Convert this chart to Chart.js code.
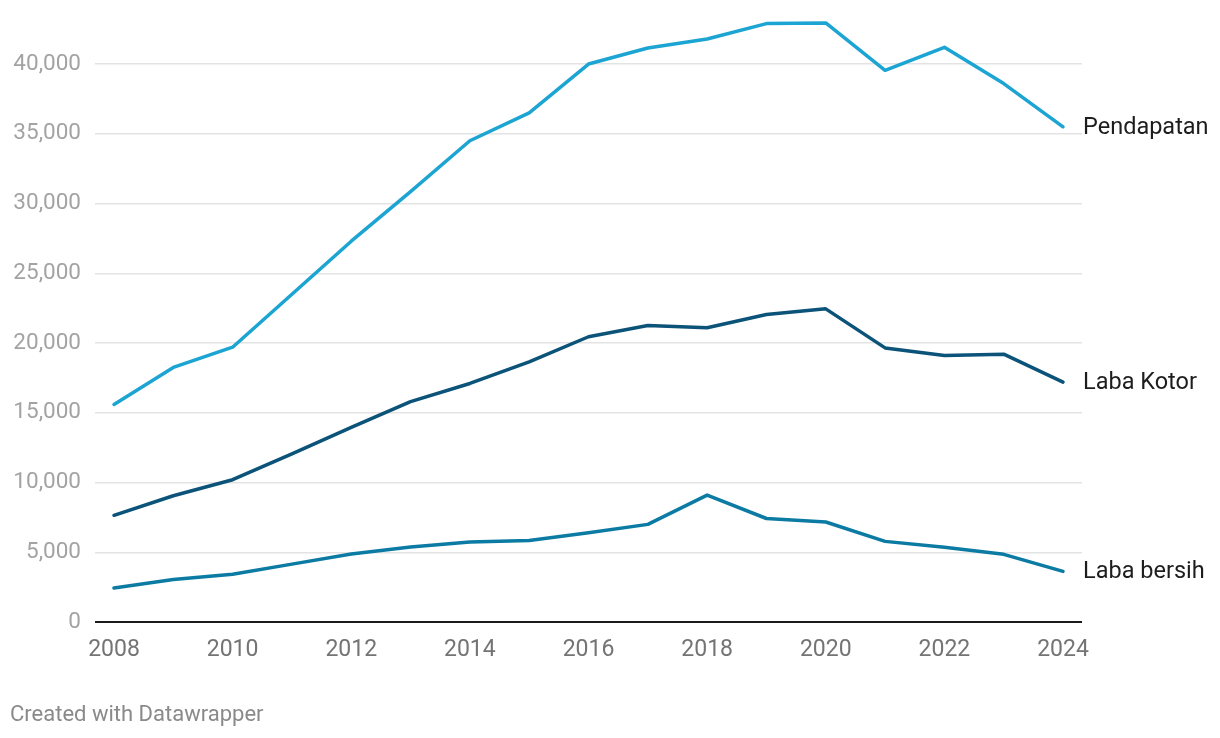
<!DOCTYPE html>
<html>
<head>
<meta charset="utf-8">
<script src="https://cdn.jsdelivr.net/npm/chart.js@4/dist/chart.umd.min.js"></script>
<style>
  html, body { margin: 0; padding: 0; background: #fff; }
  #wrap { position: relative; width: 1220px; height: 738px; }
  #credit {
    position: absolute; left: 10px; top: 701px;
    font-family: Roboto, sans-serif; font-size: 22px; color: #8a8a8a;
  }
</style>
</head>
<body>
<div id="wrap">
  <canvas id="chart" width="1220" height="738"></canvas>
  <div id="credit">Created with Datawrapper</div>
</div>
<script>
// --- DATA ---
const years = [2008, 2009, 2010, 2011, 2012, 2013, 2014, 2015, 2016, 2017, 2018, 2019, 2020, 2021, 2022, 2023, 2024];
const pendapatan = [15600, 18250, 19700, 23500, 27300, 30850, 34500, 36500, 40000, 41150, 41800, 42900, 42950, 39550, 41200, 38600, 35500];
const labaKotor = [7650, 9050, 10200, 12050, 13950, 15800, 17100, 18650, 20450, 21250, 21100, 22050, 22450, 19650, 19100, 19200, 17200];
const labaBersih = [2430, 3050, 3420, 4150, 4870, 5370, 5730, 5850, 6400, 7000, 9100, 7420, 7170, 5780, 5360, 4850, 3630];
const yTicks = [0, 5000, 10000, 15000, 20000, 25000, 30000, 35000, 40000];
const xTicks = [2008, 2010, 2012, 2014, 2016, 2018, 2020, 2022, 2024];

const seriesNames = ["Pendapatan", "Laba Kotor", "Laba bersih"];
const seriesColors = ["#1ca4d3", "#0b5379", "#0c7ba3"];

const FONT = "Roboto, 'Noto Sans', sans-serif";

function toPoints(vals) {
    return years.map((y, i) => ({ x: y, y: vals[i] }));
}

// --- END LABELS PLUGIN ---
const endLabels = {
    id: "endLabels",
    afterDatasetsDraw(chart) {
        const ctx = chart.ctx;
        ctx.save();
        ctx.font = "23.5px " + FONT;
        ctx.fillStyle = "#1d1d1d";
        ctx.textAlign = "left";
        ctx.textBaseline = "middle";
        chart.data.datasets.forEach((ds, i) => {
            const meta = chart.getDatasetMeta(i);
            const last = meta.data[meta.data.length - 1];
            ctx.fillText(ds.label, last.x + 20, last.y + 1);
        });
        ctx.restore();
    }
};

new Chart(document.getElementById("chart"), {
    type: "line",
    data: {
        datasets: [
            { label: seriesNames[0], data: toPoints(pendapatan), borderColor: seriesColors[0] },
            { label: seriesNames[1], data: toPoints(labaKotor), borderColor: seriesColors[1] },
            { label: seriesNames[2], data: toPoints(labaBersih), borderColor: seriesColors[2] }
        ].map(d => Object.assign(d, {
            borderWidth: 3.5,
            pointRadius: 0,
            tension: 0,
            fill: false,
            borderJoinStyle: "round",
            borderCapStyle: "round",
            clip: false
        }))
    },
    options: {
        responsive: false,
        animation: false,
        layout: { padding: { top: 0, right: 138, bottom: 66, left: 0 } },
        plugins: {
            legend: { display: false },
            tooltip: { enabled: false }
        },
        scales: {
            x: {
                type: "linear",
                min: 2007.68,
                max: 2024.32,
                afterBuildTicks: axis => { axis.ticks = xTicks.map(v => ({ value: v })); },
                afterFit: axis => { axis.height = 50; },
                grid: { display: false, drawTicks: false },
                border: { display: false },
                ticks: {
                    color: "#747474",
                    font: { family: FONT, size: 23 },
                    padding: 14,
                    maxRotation: 0,
                    callback: v => String(v)
                }
            },
            y: {
                min: 0,
                max: 42620,
                afterBuildTicks: axis => { axis.ticks = yTicks.map(v => ({ value: v })); },
                afterFit: axis => { axis.width = 95; },
                grid: {
                    drawTicks: false,
                    color: ctx => ctx.tick.value === 0 ? "#1a1a1a" : "#e3e3e3",
                    lineWidth: ctx => ctx.tick.value === 0 ? 2 : 1.5
                },
                border: { display: false },
                ticks: {
                    color: "#a3a3a3",
                    font: { family: FONT, size: 22.5 },
                    padding: 14,
                    callback: v => v.toLocaleString("en-US")
                }
            }
        }
    },
    plugins: [endLabels]
});
</script>
</body>
</html>
